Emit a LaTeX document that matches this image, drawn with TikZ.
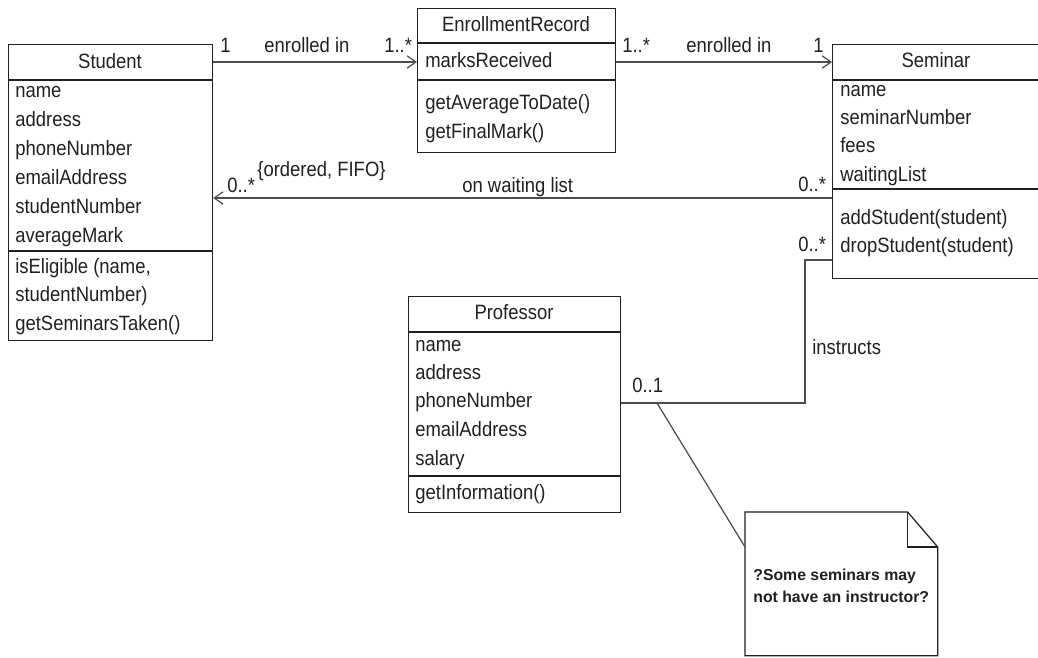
\documentclass[tikz,border=0pt]{standalone}
\usepackage{fontspec}
\setmainfont{Liberation Sans}[FakeStretch=0.89]
\newfontfamily\notefont{Liberation Sans}
\usetikzlibrary{calc,arrows.meta}

\definecolor{umlink}{HTML}{202020}
\definecolor{umlline}{HTML}{4D4D4D}
\newcommand{\umlsize}{\fontsize{11.8}{14}\selectfont}

\begin{document}
\begin{tikzpicture}
   [x={(0.02cm,0cm)},y={(0cm,-0.02cm)},
   every node/.style={inner sep=0pt, text=umlink, font=\umlsize},
   classbox/.style={draw=umlink, line width=0.7pt, anchor=north west},
   divider/.style={draw=umlink, line width=0.7pt},
   title/.style={anchor=base},
   member/.style={anchor=base west},
   mult/.style={anchor=base west},
   assoc/.style={draw=umlline, line width=0.7pt},
   nav/.style={assoc, -{Straight Barb[length=5pt,width=7pt]}}]

   \useasboundingbox (0,0) rectangle (1038,658);

   % Student
   \node[classbox, minimum width=4.08cm, minimum height=5.92cm] (student) at (8,44) {};
   \draw[divider] (8,80) -- (212,80) (8,251) -- (212,251);
   \node[title]  (studentname) at (110,69)  {Student};
   \node[member] (sname)    at (15,98)  {name};
   \node[member] (saddr)    at (15,127) {address};
   \node[member] (sphone)   at (15,156) {phoneNumber};
   \node[member] (semail)   at (15,185) {emailAddress};
   \node[member] (snumber)  at (15,214) {studentNumber};
   \node[member] (smark)    at (15,243) {averageMark};
   \node[member] (seligA)   at (15,274) {isEligible (name,};
   \node[member] (seligB)   at (15,302) {studentNumber)};
   \node[member] (staken)   at (15,331) {getSeminarsTaken()};

   % EnrollmentRecord
   \node[classbox, minimum width=3.96cm, minimum height=2.88cm] (record) at (417,8) {};
   \draw[divider] (417,43) -- (615,43) (417,80) -- (615,80);
   \node[title]  (recordname) at (516,32) {EnrollmentRecord};
   \node[member] (rmarks)   at (425,68)  {marksReceived};
   \node[member] (ravg)     at (425,110) {getAverageToDate()};
   \node[member] (rfinal)   at (425,139) {getFinalMark()};

   % Seminar
   \node[classbox, minimum width=4.16cm, minimum height=4.68cm] (seminar) at (832,44) {};
   \draw[divider] (832,80) -- (1040,80) (832,189) -- (1040,189);
   \node[title]  (seminarname) at (936,68) {Seminar};
   \node[member] (mname)    at (840,97)  {name};
   \node[member] (mnumber)  at (840,125) {seminarNumber};
   \node[member] (mfees)    at (840,153) {fees};
   \node[member] (mlist)    at (840,182) {waitingList};
   \node[member] (madd)     at (840,225) {addStudent(student)};
   \node[member] (mdrop)    at (840,253) {dropStudent(student)};

   % Professor
   \node[classbox, minimum width=4.24cm, minimum height=4.32cm] (professor) at (408,296) {};
   \draw[divider] (408,332) -- (620,332) (408,476) -- (620,476);
   \node[title]  (professorname) at (514,320) {Professor};
   \node[member] (pname)    at (415,352) {name};
   \node[member] (paddr)    at (415,380) {address};
   \node[member] (pphone)   at (415,408) {phoneNumber};
   \node[member] (pemail)   at (415,437) {emailAddress};
   \node[member] (psalary)  at (415,465) {salary};
   \node[member] (pinfo)    at (415,500) {getInformation()};

   % note with folded corner
   \node[minimum width=3.84cm, minimum height=2.86cm, anchor=north west] (note) at (745,512) {};
   \draw[divider, fill=white] (note.south west) -- (note.north west)
      -- ($(note.north east)+(-30,0)$) -- ($(note.north east)+(0,35)$)
      -- (note.south east) -- cycle;
   \draw[divider] ($(note.north east)+(-30,0)$) -- ($(note.north east)+(-30,35)$)
      -- ($(note.north east)+(0,35)$);
   \node[anchor=base west, align=left, font={\notefont\bfseries\fontsize{9}{12.5}\selectfont}]
      (notetext) at (753,602) {?Some seminars may\\not have an instructor?};

   % associations
   \coordinate (enrolled) at (0,62);
   \coordinate (waiting)  at (0,198);
   \coordinate (bend)     at (805,260);
   \coordinate (link)     at (657,403);

   \draw[nav] (student.east |- enrolled) -- (record.west |- enrolled);
   \draw[nav] (record.east |- enrolled) -- (seminar.west |- enrolled);
   \draw[nav] (seminar.west |- waiting) -- (student.east |- waiting);
   \draw[assoc] (seminar.west |- bend) -- (bend) -- (bend |- link) -- (professor.east |- link);
   \draw[assoc] (link) -- ($(note.north west)+(0,35)$);

   % multiplicities and labels
   \node[mult] (m1)  at (220,53)  {1};
   \node[mult] (l1)  at (264,53)  {enrolled in};
   \node[mult] (m2)  at (384,53)  {1..*};
   \node[mult] (m3)  at (622,53)  {1..*};
   \node[mult] (l2)  at (686,53)  {enrolled in};
   \node[mult] (m4)  at (813,53)  {1};
   \node[mult] (m5)  at (227,193) {0..*};
   \node[mult] (fifo) at (257,177) {\{ordered, FIFO\}};
   \node[mult] (l3)  at (462,193) {on waiting list};
   \node[mult] (m6)  at (798,192) {0..*};
   \node[mult] (m7)  at (798,252) {0..*};
   \node[mult] (l4)  at (812,355) {instructs};
   \node[mult] (m8)  at (632,393) {0..1};
\end{tikzpicture}
\end{document}
